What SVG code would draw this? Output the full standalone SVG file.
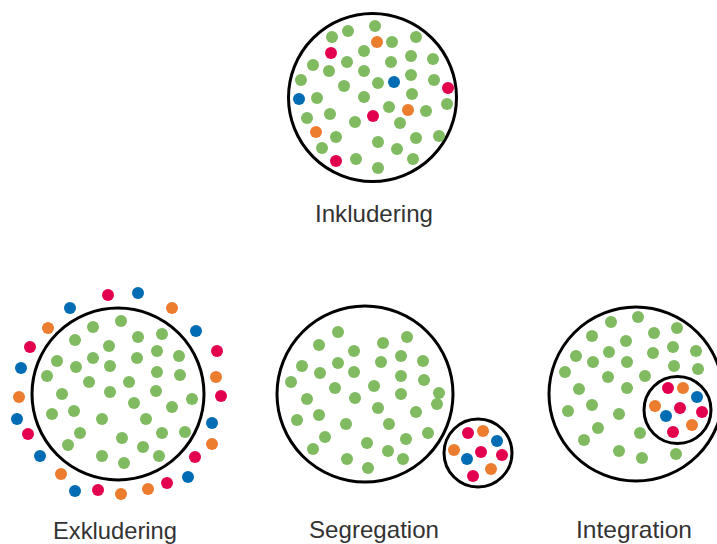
<svg xmlns="http://www.w3.org/2000/svg" width="717" height="544" viewBox="0 0 717 544">
<style>
.ring{fill:none;stroke:#000;stroke-width:3}
.g{fill:#80ba61}
.r{fill:#e2004f}
.o{fill:#ec7c2e}
.b{fill:#006cb4}
.lbl{font-family:"Liberation Sans",Arial,sans-serif;font-size:24px;fill:#333;text-anchor:middle}
</style>
<rect width="717" height="544" fill="#fff"/>
<defs>
<circle id="d" r="6"/>
</defs>
<g id="inkludering">
<circle class="ring" cx="372.5" cy="97.5" r="84"/>
<g class="g">
<circle cx="375" cy="26" r="6"/><circle cx="332" cy="37" r="6"/><circle cx="348" cy="31" r="6"/><circle cx="392" cy="42" r="6"/><circle cx="416" cy="37" r="6"/><circle cx="364" cy="51" r="6"/><circle cx="313" cy="65" r="6"/><circle cx="347" cy="62" r="6"/><circle cx="391" cy="62" r="6"/><circle cx="411" cy="56" r="6"/><circle cx="433" cy="59" r="6"/><circle cx="329" cy="71" r="6"/><circle cx="364" cy="71" r="6"/><circle cx="301" cy="80" r="6"/><circle cx="411" cy="75" r="6"/><circle cx="434" cy="80" r="6"/><circle cx="344" cy="86" r="6"/><circle cx="378" cy="83" r="6"/><circle cx="317" cy="98" r="6"/><circle cx="364" cy="97" r="6"/><circle cx="412" cy="94" r="6"/><circle cx="389" cy="107" r="6"/><circle cx="426" cy="111" r="6"/><circle cx="447" cy="104" r="6"/><circle cx="307" cy="118" r="6"/><circle cx="330" cy="114" r="6"/><circle cx="355" cy="122" r="6"/><circle cx="400" cy="123" r="6"/><circle cx="336" cy="137" r="6"/><circle cx="378" cy="142" r="6"/><circle cx="416" cy="138" r="6"/><circle cx="439" cy="136" r="6"/><circle cx="322" cy="148" r="6"/><circle cx="397" cy="149" r="6"/><circle cx="356" cy="159" r="6"/><circle cx="413" cy="159" r="6"/><circle cx="378" cy="168" r="6"/>
</g>
<circle class="o" cx="377" cy="42" r="6"/><circle class="r" cx="331" cy="53" r="6"/><circle class="b" cx="394" cy="82" r="6"/><circle class="r" cx="448" cy="88" r="6"/><circle class="b" cx="299" cy="99" r="6"/><circle class="o" cx="408" cy="110" r="6"/><circle class="r" cx="373" cy="116" r="6"/><circle class="o" cx="316" cy="132" r="6"/><circle class="r" cx="336" cy="161" r="6"/>
<text class="lbl" x="374" y="222" textLength="118" lengthAdjust="spacingAndGlyphs">Inkludering</text>
</g>
<g id="exkludering">
<circle class="ring" cx="118" cy="394" r="86"/>
<g class="g">
<circle cx="121" cy="321" r="6"/><circle cx="93" cy="327" r="6"/><circle cx="75" cy="340" r="6"/><circle cx="109" cy="346" r="6"/><circle cx="57" cy="361" r="6"/><circle cx="93" cy="358" r="6"/><circle cx="76" cy="367" r="6"/><circle cx="110" cy="366" r="6"/><circle cx="47" cy="376" r="6"/><circle cx="89" cy="382" r="6"/><circle cx="62" cy="394" r="6"/><circle cx="110" cy="392" r="6"/><circle cx="52" cy="414" r="6"/><circle cx="74" cy="411" r="6"/><circle cx="102" cy="419" r="6"/><circle cx="80" cy="433" r="6"/><circle cx="68" cy="445" r="6"/><circle cx="102" cy="456" r="6"/>
<circle cx="138" cy="337" r="6"/><circle cx="162" cy="334" r="6"/><circle cx="137" cy="358" r="6"/><circle cx="157" cy="351" r="6"/><circle cx="179" cy="356" r="6"/><circle cx="157" cy="372" r="6"/><circle cx="180" cy="375" r="6"/><circle cx="129" cy="382" r="6"/><circle cx="156" cy="391" r="6"/><circle cx="192" cy="399" r="6"/><circle cx="134" cy="403" r="6"/><circle cx="172" cy="407" r="6"/><circle cx="146" cy="419" r="6"/><circle cx="122" cy="438" r="6"/><circle cx="162" cy="433" r="6"/><circle cx="185" cy="432" r="6"/><circle cx="143" cy="447" r="6"/><circle cx="159" cy="456" r="6"/><circle cx="124" cy="463" r="6"/>
</g>
<circle class="r" cx="108" cy="295" r="6"/><circle class="b" cx="70" cy="308" r="6"/><circle class="o" cx="48" cy="328" r="6"/><circle class="r" cx="30" cy="347" r="6"/><circle class="b" cx="21" cy="368" r="6"/><circle class="o" cx="19" cy="397" r="6"/><circle class="b" cx="17" cy="419" r="6"/><circle class="r" cx="28" cy="434" r="6"/><circle class="b" cx="40" cy="456" r="6"/><circle class="o" cx="61" cy="474" r="6"/><circle class="b" cx="75" cy="491" r="6"/><circle class="r" cx="98" cy="490" r="6"/><circle class="o" cx="121" cy="494" r="6"/>
<circle class="b" cx="138" cy="293" r="6"/><circle class="o" cx="172" cy="308" r="6"/><circle class="b" cx="196" cy="331" r="6"/><circle class="r" cx="217" cy="351" r="6"/><circle class="o" cx="216" cy="377" r="6"/><circle class="r" cx="221" cy="396" r="6"/><circle class="b" cx="212" cy="423" r="6"/><circle class="o" cx="212" cy="444" r="6"/><circle class="r" cx="195" cy="457" r="6"/><circle class="b" cx="188" cy="477" r="6"/><circle class="r" cx="167" cy="483" r="6"/><circle class="o" cx="148" cy="489" r="6"/>
<text class="lbl" x="115" y="539" textLength="124" lengthAdjust="spacingAndGlyphs">Exkludering</text>
</g>
<g id="segregation">
<circle class="ring" cx="365" cy="394" r="88"/>
<g class="g">
<circle cx="338" cy="332" r="6"/><circle cx="319" cy="345" r="6"/><circle cx="383" cy="343" r="6"/><circle cx="407" cy="337" r="6"/><circle cx="354" cy="351" r="6"/><circle cx="302" cy="366" r="6"/><circle cx="338" cy="363" r="6"/><circle cx="381" cy="362" r="6"/><circle cx="401" cy="356" r="6"/><circle cx="423" cy="361" r="6"/><circle cx="320" cy="373" r="6"/><circle cx="354" cy="372" r="6"/><circle cx="291" cy="382" r="6"/><circle cx="401" cy="376" r="6"/><circle cx="424" cy="380" r="6"/><circle cx="335" cy="388" r="6"/><circle cx="374" cy="386" r="6"/><circle cx="307" cy="399" r="6"/><circle cx="355" cy="398" r="6"/><circle cx="401" cy="394" r="6"/><circle cx="439" cy="393" r="6"/><circle cx="437" cy="404" r="6"/><circle cx="378" cy="408" r="6"/><circle cx="416" cy="412" r="6"/><circle cx="319" cy="415" r="6"/><circle cx="297" cy="420" r="6"/><circle cx="346" cy="424" r="6"/><circle cx="389" cy="424" r="6"/><circle cx="428" cy="433" r="6"/><circle cx="325" cy="437" r="6"/><circle cx="367" cy="443" r="6"/><circle cx="406" cy="439" r="6"/><circle cx="313" cy="449" r="6"/><circle cx="388" cy="451" r="6"/><circle cx="347" cy="459" r="6"/><circle cx="403" cy="459" r="6"/><circle cx="368" cy="468" r="6"/>
</g>
<circle class="ring" cx="478" cy="453" r="34"/>
<circle class="r" cx="468" cy="433" r="6"/><circle class="o" cx="483" cy="431" r="6"/><circle class="b" cx="497" cy="441" r="6"/><circle class="o" cx="454" cy="450" r="6"/><circle class="r" cx="481" cy="452" r="6"/><circle class="b" cx="467" cy="459" r="6"/><circle class="r" cx="502" cy="455" r="6"/><circle class="o" cx="491" cy="469" r="6"/><circle class="r" cx="473" cy="476" r="6"/>
<text class="lbl" x="374" y="538" textLength="130" lengthAdjust="spacingAndGlyphs">Segregation</text>
</g>
<g id="integration">
<circle class="ring" cx="636" cy="394" r="87"/>
<g class="g">
<circle cx="638" cy="317" r="6"/><circle cx="611" cy="322" r="6"/><circle cx="592" cy="336" r="6"/><circle cx="654" cy="333" r="6"/><circle cx="677" cy="328" r="6"/><circle cx="626" cy="341" r="6"/><circle cx="576" cy="356" r="6"/><circle cx="609" cy="352" r="6"/><circle cx="653" cy="353" r="6"/><circle cx="673" cy="347" r="6"/><circle cx="696" cy="351" r="6"/><circle cx="593" cy="362" r="6"/><circle cx="627" cy="362" r="6"/><circle cx="565" cy="372" r="6"/><circle cx="674" cy="366" r="6"/><circle cx="698" cy="369" r="6"/><circle cx="608" cy="377" r="6"/><circle cx="645" cy="376" r="6"/><circle cx="579" cy="389" r="6"/><circle cx="627" cy="388" r="6"/><circle cx="568" cy="411" r="6"/><circle cx="592" cy="405" r="6"/><circle cx="619" cy="414" r="6"/><circle cx="598" cy="428" r="6"/><circle cx="640" cy="433" r="6"/><circle cx="584" cy="440" r="6"/><circle cx="619" cy="451" r="6"/><circle cx="642" cy="458" r="6"/><circle cx="676" cy="454" r="6"/>
</g>
<circle class="ring" cx="677.5" cy="410" r="33.5"/>
<circle class="r" cx="668" cy="388" r="6"/><circle class="o" cx="683" cy="388" r="6"/><circle class="b" cx="697" cy="397" r="6"/><circle class="o" cx="655" cy="406" r="6"/><circle class="r" cx="680" cy="408" r="6"/><circle class="r" cx="702" cy="412" r="6"/><circle class="b" cx="666" cy="416" r="6"/><circle class="o" cx="692" cy="425" r="6"/><circle class="r" cx="673" cy="432" r="6"/>
<text class="lbl" x="634" y="538" textLength="116" lengthAdjust="spacingAndGlyphs">Integration</text>
</g>
<g id="connectors"/>
</svg>
